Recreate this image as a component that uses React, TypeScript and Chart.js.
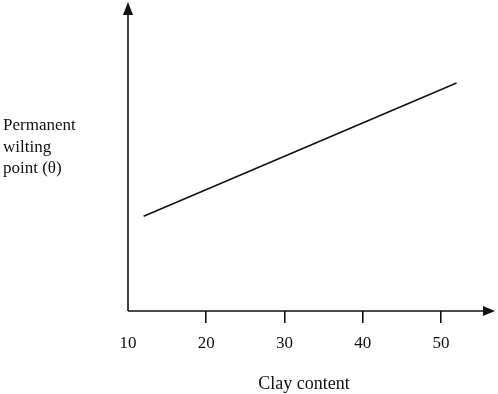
import React, { useEffect, useRef } from "react";
import { Chart, registerables } from "chart.js";

Chart.register(...registerables);

const clayContent: number[] = [12, 52];
const wiltingPoint: number[] = [32, 77];
const xTicks: number[] = [10, 20, 30, 40, 50];
const xTitle = "Clay content";
const yTitleLines: string[] = ["Permanent", "wilting", "point (\u03b8)"];

const FONT = "'Liberation Serif', 'Times New Roman', serif";

const axesPlugin = {
  id: "arrowAxes",
  afterDraw(chart: any) {
    const { ctx, chartArea } = chart;
    const { left, right, top, bottom } = chartArea;
    ctx.save();
    ctx.strokeStyle = "#111";
    ctx.fillStyle = "#111";
    ctx.lineWidth = 1.6;
    // y axis
    ctx.beginPath();
    ctx.moveTo(left, bottom);
    ctx.lineTo(left, top - 2);
    ctx.stroke();
    ctx.beginPath();
    ctx.moveTo(left, top - 13);
    ctx.lineTo(left - 5, top);
    ctx.lineTo(left + 5, top);
    ctx.closePath();
    ctx.fill();
    // x axis extension + arrow
    ctx.beginPath();
    ctx.moveTo(left, bottom);
    ctx.lineTo(right + 4, bottom);
    ctx.stroke();
    ctx.beginPath();
    ctx.moveTo(right + 15, bottom);
    ctx.lineTo(right + 3, bottom - 5);
    ctx.lineTo(right + 3, bottom + 5);
    ctx.closePath();
    ctx.fill();
    // y title
    ctx.font = `17px ${FONT}`;
    ctx.textAlign = "left";
    ctx.textBaseline = "middle";
    yTitleLines.forEach((t, i) => {
      ctx.fillText(t, 3, 126 + i * 21.5);
    });
    ctx.restore();
  },
};

export default function App() {
  const ref = useRef<HTMLCanvasElement | null>(null);
  useEffect(() => {
    if (!ref.current) return;
    const chart = new Chart(ref.current, {
      type: "line",
      data: {
        datasets: [
          {
            data: clayContent.map((x, i) => ({ x, y: wiltingPoint[i] })),
            borderColor: "#111",
            borderWidth: 1.6,
            pointRadius: 0,
            fill: false,
          },
        ],
      },
      options: {
        responsive: false,
        animation: false,
        maintainAspectRatio: false,
        layout: { padding: { left: 128, right: 18, top: 15, bottom: 0 } },
        plugins: { legend: { display: false }, tooltip: { enabled: false } },
        scales: {
          x: {
            type: "linear",
            min: 10,
            max: 55,
            afterBuildTicks: (axis: any) => {
              axis.ticks = xTicks.map((v) => ({ value: v }));
            },
            ticks: {
              color: "#111",
              font: { family: FONT, size: 17 },
              padding: 10,
              maxRotation: 0,
            },
            grid: {
              drawOnChartArea: false,
              drawTicks: true,
              tickLength: 12,
              lineWidth: 1.6,
              color: (c: any) => (c.tick && c.tick.value === 10 ? "rgba(0,0,0,0)" : "#111"),
            },
            border: { display: false },
            title: {
              display: true,
              text: xTitle,
              color: "#111",
              font: { family: FONT, size: 18 },
              padding: { top: 10, bottom: -1 },
            },
          },
          y: {
            display: false,
            min: 0,
            max: 100,
          },
        },
      },
      plugins: [axesPlugin],
    });
    return () => chart.destroy();
  }, []);
  return (
    <div style={{ position: "fixed", left: 0, top: 0, width: 498, height: 394, background: "#fff" }}>
      <canvas ref={ref} width={498} height={394} style={{ width: 498, height: 394 }} />
    </div>
  );
}
